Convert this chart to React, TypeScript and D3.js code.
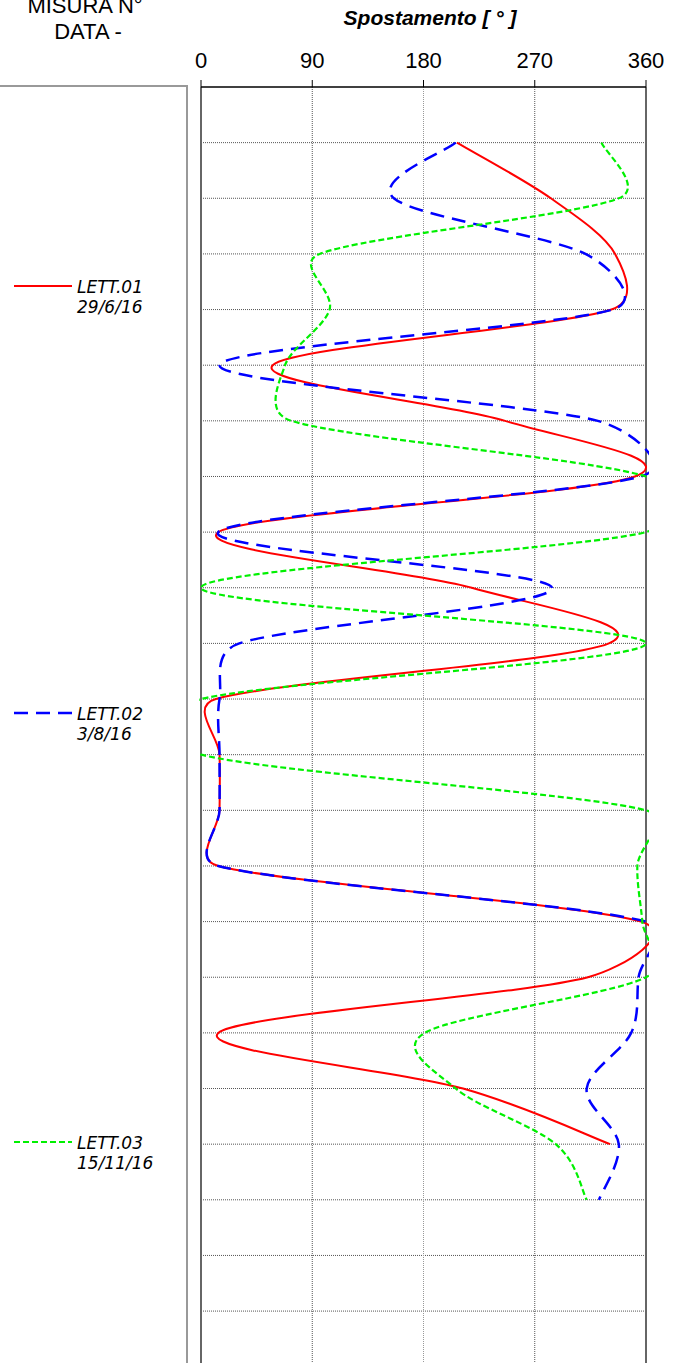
import React from 'react';
import * as d3 from 'd3';

// depth index (m) of each reading
const depths = [1, 2, 3, 4, 5, 6, 7, 8, 9, 10, 11, 12, 13, 14, 15, 16, 17, 18, 19, 20];
// Spostamento [°]
const lett01 = [207, 283, 335, 332, 58, 246, 351, 14, 219, 330, 12, 15, 15, 14, 356, 313, 14, 212, 331];
const lett02 = [206, 156, 311, 333, 15, 321, 356, 14, 284, 31, 15, 15, 15, 14, 360, 354, 348, 312, 338, 322];
const lett03 = [324, 338, 96, 104, 68, 73, 360, 360, 0, 360, 0, 0, 360, 353, 357, 360, 181, 206, 287, 312];
const seriesNames = ['LETT.01', 'LETT.02', 'LETT.03'];
const seriesDates = ['29/6/16', '3/8/16', '15/11/16'];
const xTicks = [0, 90, 180, 270, 360];
const gridDepths = d3.range(1, 23);

type P = [number, number];

// Excel-like smoothed scatter line: Bezier segments whose control arms are
// 1/6 of the neighbour chord, limited to half of the segment length.
function smoothPath(pts: P[]): string {
  const path = d3.path();
  if (!pts.length) return '';
  path.moveTo(pts[0][0], pts[0][1]);
  const dist = (a: P, b: P) => Math.hypot(a[0] - b[0], a[1] - b[1]);
  for (let i = 0; i < pts.length - 1; i++) {
    const p0 = pts[i - 1] ?? pts[i];
    const p1 = pts[i];
    const p2 = pts[i + 1];
    const p3 = pts[i + 2] ?? pts[i + 1];
    const d12 = dist(p1, p2);
    const d02 = dist(p0, p2);
    const d13 = dist(p1, p3);
    const f1 = d02 > 0 ? Math.min(1 / 6, d12 / (2 * d02)) : 0;
    const f2 = d13 > 0 ? Math.min(1 / 6, d12 / (2 * d13)) : 0;
    const c1: P = [p1[0] + (p2[0] - p0[0]) * f1, p1[1] + (p2[1] - p0[1]) * f1];
    const c2: P = [p2[0] - (p3[0] - p1[0]) * f2, p2[1] - (p3[1] - p1[1]) * f2];
    path.bezierCurveTo(c1[0], c1[1], c2[0], c2[1], p2[0], p2[1]);
  }
  return path.toString();
}

export default function App() {
  const W = 675;
  const H = 1363;
  const top = 87;
  const step = 55.64;
  const x = d3.scaleLinear().domain([0, 360]).range([201, 646]);
  const y = d3.scaleLinear().domain([0, 23]).range([top, top + 23 * step]);

  const data = [lett01, lett02, lett03].map((vals) =>
    vals.map((v, i) => [x(v), y(depths[i])] as P)
  );
  const styles = [
    { color: '#ff0000', width: 2, dash: undefined as string | undefined },
    { color: '#0000ff', width: 2.5, dash: '14 8' },
    { color: '#00f000', width: 2.2, dash: '6 3' },
  ];
  const legendY = [286, 713, 1142];

  return (
    <svg
      width={W}
      height={H}
      style={{ position: 'absolute', left: 0, top: 0, background: '#fff' }}
      fontFamily="Liberation Sans, Arial, sans-serif"
    >
      <defs>
        <clipPath id="plotClip">
          <rect x={199} y={top} width={450} height={H - top} />
        </clipPath>
      </defs>
      <rect x={0} y={0} width={W} height={H} fill="#fff" />

      {/* header */}
      <text x={85} y={13} fontSize={22} textAnchor="middle" fill="#000">MISURA N°</text>
      <text x={88} y={39} fontSize={22} textAnchor="middle" fill="#000">DATA -</text>
      <text x={430} y={25} fontSize={21} fontWeight="bold" fontStyle="italic" textAnchor="middle" fill="#000">
        Spostamento [ ° ]
      </text>

      {/* left legend panel */}
      <path d={`M0,${top - 1}H187V${H}`} fill="none" stroke="#999" strokeWidth={2} />

      {/* x tick labels */}
      {xTicks.map((t) => (
        <text key={t} x={x(t)} y={68} fontSize={22} textAnchor="middle" fill="#000"
          fontFamily="Liberation Sans Narrow, Liberation Sans, sans-serif">
          {t}
        </text>
      ))}

      {/* horizontal grid */}
      {gridDepths.map((g) => (
        <line key={g} x1={x(0)} x2={x(360)} y1={y(g)} y2={y(g)} stroke="#555" strokeWidth={1} strokeDasharray="1 1" />
      ))}
      {/* vertical grid */}
      {xTicks.slice(1, -1).map((t) => (
        <line key={t} x1={x(t)} x2={x(t)} y1={top} y2={H} stroke={t === 180 ? '#999' : '#555'} strokeWidth={1} strokeDasharray="1 1" />
      ))}
      {/* frame */}
      <line x1={x(0)} x2={x(0)} y1={top} y2={H} stroke="#666" strokeWidth={2} />
      <line x1={x(360)} x2={x(360)} y1={top} y2={H} stroke="#666" strokeWidth={2} />
      <line x1={x(0)} x2={x(360)} y1={top} y2={top} stroke="#000" strokeWidth={1.5} />
      {xTicks.map((t) => (
        <line key={t} x1={x(t)} x2={x(t)} y1={top - 7} y2={top} stroke="#000" strokeWidth={1} />
      ))}

      {/* series */}
      <g clipPath="url(#plotClip)">
        {data.map((pts, i) => (
          <path key={i} d={smoothPath(pts)} fill="none" stroke={styles[i].color}
            strokeWidth={styles[i].width} strokeDasharray={styles[i].dash} />
        ))}
      </g>

      {/* legend */}
      {seriesNames.map((name, i) => (
        <g key={name}>
          <line x1={14} x2={72} y1={legendY[i]} y2={legendY[i]} stroke={styles[i].color}
            strokeWidth={styles[i].width} strokeDasharray={styles[i].dash} />
          <text x={77} y={legendY[i] + 7} fontSize={17} fontStyle="italic" fill="#000"
            fontFamily="DejaVu Sans, sans-serif">{name}</text>
          <text x={77} y={legendY[i] + 27} fontSize={17} fontStyle="italic" fill="#000"
            fontFamily="DejaVu Sans, sans-serif">{seriesDates[i]}</text>
        </g>
      ))}
    </svg>
  );
}
